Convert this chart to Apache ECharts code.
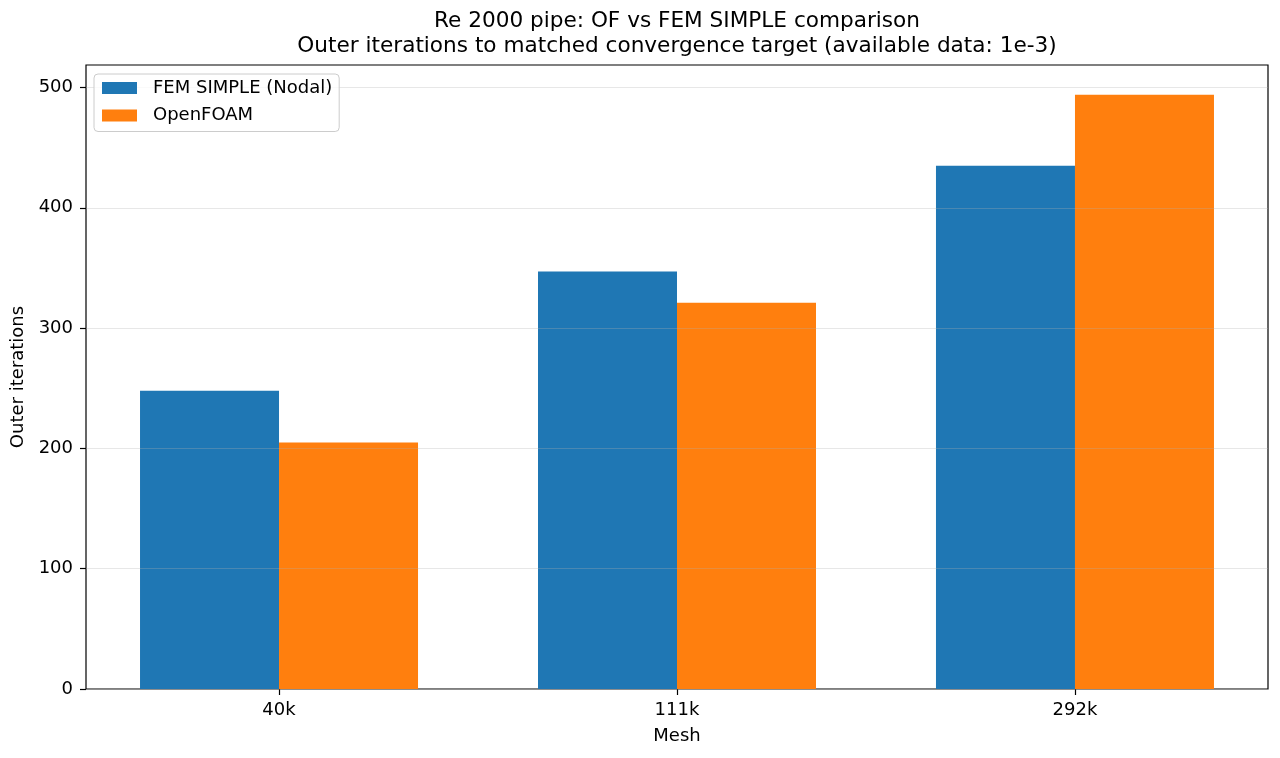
<!DOCTYPE html>
<html>
<head>
<meta charset="utf-8">
<script src="https://cdn.jsdelivr.net/npm/echarts@6/dist/echarts.min.js"></script>
<style>
  html, body { margin: 0; padding: 0; background: #fff; }
  #chart { width: 1280px; height: 758px; }
</style>
</head>
<body>
<div id="chart"></div>
<script>
'use strict';

const meshes = ['40k', '111k', '292k'];
const femIters = [248, 347, 435];
const ofIters = [205, 321, 494];
const yTicks = [0, 100, 200, 300, 400, 500];
const titleLines = [
  'Re 2000 pipe: OF vs FEM SIMPLE comparison',
  'Outer iterations to matched convergence target (available data: 1e-3)'
];

const FONT = 'DejaVu Sans';
const xPos = meshes.map((m, i) => i);

function pairs(vals) {
  return vals.map((v, i) => [xPos[i], v]);
}

const chart = echarts.init(document.getElementById('chart'), null, { renderer: 'canvas' });

chart.setOption({
  backgroundColor: '#fff',
  animation: false,
  textStyle: { fontFamily: FONT, color: '#000' },
  graphic: titleLines.map((t, i) => ({
    type: 'text',
    x: 677,
    y: 21 + i * 25,
    style: {
      text: t,
      fontFamily: FONT,
      fontSize: 21.6,
      fill: '#000',
      textAlign: 'center',
      textVerticalAlign: 'middle'
    }
  })),
  grid: {
    left: 86, right: 12, top: 65, bottom: 69,
    show: true, borderColor: '#000', borderWidth: 1.2,
    backgroundColor: 'transparent'
  },
  legend: {
    orient: 'vertical',
    left: 94, top: 74,
    z: 10,
    padding: [5, 7, 7, 8],
    itemWidth: 35, itemHeight: 12, itemGap: 9.5,
    icon: 'rect',
    backgroundColor: 'rgba(255,255,255,0.8)',
    borderColor: '#cccccc', borderWidth: 1, borderRadius: 4,
    textStyle: { fontFamily: FONT, fontSize: 18, lineHeight: 18, color: '#000', padding: [0, 0, 0, 11] },
    data: ['FEM SIMPLE (Nodal)', 'OpenFOAM']
  },
  xAxis: {
    type: 'value',
    min: -0.485, max: 2.485,
    name: 'Mesh', nameLocation: 'middle', nameGap: 38,
    nameTextStyle: { fontFamily: FONT, fontSize: 18, color: '#000' },
    axisLine: { show: false, onZero: false },
    axisTick: { show: true, length: 6, lineStyle: { color: '#000', width: 1.2 }, customValues: xPos },
    axisLabel: {
      margin: 12, fontFamily: FONT, fontSize: 18, color: '#000',
      customValues: xPos,
      formatter: (v) => meshes[Math.round(v)]
    },
    splitLine: { show: false }
  },
  yAxis: {
    type: 'value',
    min: 0, max: 518.7, interval: 100,
    z: 3,
    name: 'Outer iterations', nameLocation: 'middle', nameGap: 52,
    nameTextStyle: { fontFamily: FONT, fontSize: 18, color: '#000' },
    axisLine: { show: false, onZero: false },
    axisTick: { show: true, length: 6, lineStyle: { color: '#000', width: 1.2 }, customValues: yTicks },
    axisLabel: { margin: 13, fontFamily: FONT, fontSize: 18, color: '#000', customValues: yTicks },
    splitLine: { show: true, lineStyle: { color: 'rgba(176,176,176,0.3)', width: 1.2 } }
  },
  series: [
    {
      name: 'FEM SIMPLE (Nodal)', type: 'bar',
      data: pairs(femIters),
      barWidth: 139, barGap: '0%',
      itemStyle: { color: '#1f77b4' }
    },
    {
      name: 'OpenFOAM', type: 'bar',
      data: pairs(ofIters),
      barWidth: 139, barGap: '0%',
      itemStyle: { color: '#ff7f0e' }
    }
  ]
});
</script>
</body>
</html>
